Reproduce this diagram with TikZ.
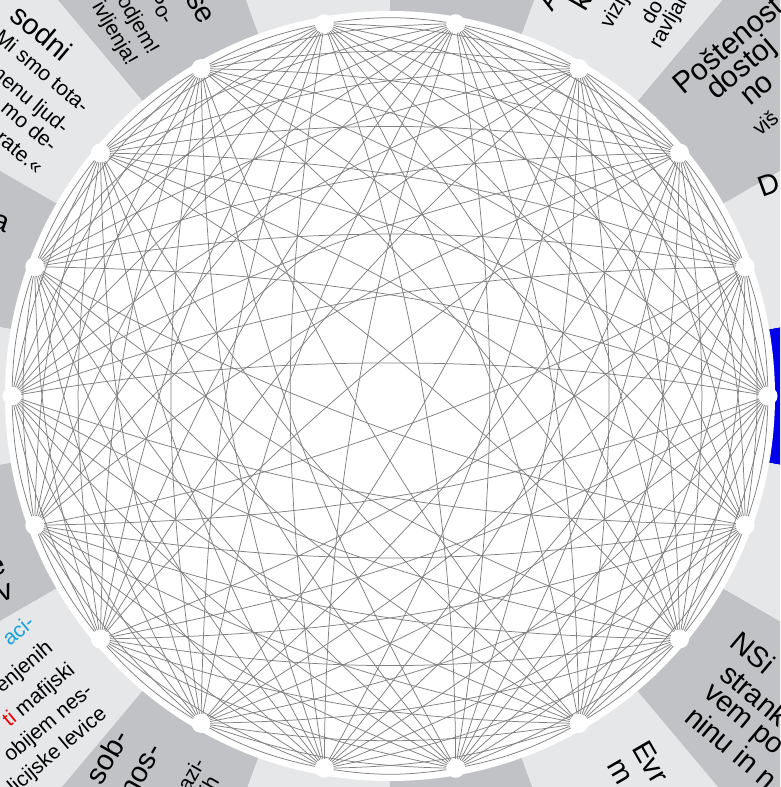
\documentclass[tikz,border=0pt]{standalone}
\usepackage{fontspec}
\setmainfont{Liberation Sans}
\definecolor{lightw}{RGB}{230,231,232}
\definecolor{darkw}{RGB}{193,194,197}
\definecolor{wblue}{RGB}{0,0,235}
\definecolor{edgec}{RGB}{128,128,128}
\definecolor{tcyan}{RGB}{20,160,225}
\definecolor{tred}{RGB}{235,0,0}
\begin{document}
\begin{tikzpicture}[x=1pt,y=1pt,
  ttl/.style={font=\fontsize{29}{29}\selectfont, inner sep=0pt},
  bdy/.style={font=\fontsize{21}{21}\selectfont, inner sep=0pt},
  pnode/.style={circle, fill=white, minimum size=19pt, inner sep=0pt},
  edg/.style={draw=edgec, line width=0.75pt},
]
\useasboundingbox (-390,-391) rectangle (390,396);
\clip (-390,-391) rectangle (390,396);
% wedges
\foreach \k in {0,...,17}{
  \pgfmathsetmacro\a{20*\k}
  \ifnum\k=0 \def\wc{wblue}\else \ifodd\k\relax \def\wc{lightw}\else\def\wc{darkw}\fi\fi
  \fill[\wc] (0,0) -- (\a-10:900) -- (\a+10:900) -- cycle;
}
\fill[white] (0,0) circle (385);
% node centres
\foreach \k in {0,...,17} \coordinate (p\k) at (20*\k:378);
% edges: from node i to node i+k (counter-clockwise), all bent to the right by 9 degrees
\foreach \i in {0,...,17}{
  \foreach \k in {1,...,8}{
    \pgfmathtruncatemacro\j{mod(\i+\k,18)}
    \pgfmathsetmacro\ph{20*\i+10*\k+90}
    \pgfmathsetmacro\cc{0.3915*756*sin(10*\k)}
    \pgfmathsetmacro\oa{\ph-9}
    \pgfmathsetmacro\ob{\ph+189}
    \draw[edg] (p\i) .. controls +(\oa:\cc) and +(\ob:\cc) .. (p\j);
  }
}
% diameters, as flat circular arcs (p0-p9, p2-p11, ..., p16-p7)
\draw[edg] (p0) arc[start angle=80, end angle=100, radius=2177];
\draw[edg] (p2) arc[start angle=120, end angle=140, radius=2177];
\draw[edg] (p4) arc[start angle=160, end angle=180, radius=2177];
\draw[edg] (p6) arc[start angle=200, end angle=220, radius=2177];
\draw[edg] (p8) arc[start angle=240, end angle=260, radius=2177];
\draw[edg] (p10) arc[start angle=280, end angle=300, radius=2177];
\draw[edg] (p12) arc[start angle=320, end angle=340, radius=2177];
\draw[edg] (p14) arc[start angle=360, end angle=380, radius=2177];
\draw[edg] (p16) arc[start angle=400, end angle=420, radius=2177];
% nodes
\foreach \k in {0,...,17} \node[pnode] (n\k) at (p\k) {};
% right side texts (reading outward)
\node[ttl, font=\fontsize{30}{30}\selectfont, rotate=40, anchor=base west] (r1) at (293,300) {Poštenost};
\node[ttl, font=\fontsize{30}{30}\selectfont, rotate=40, anchor=base west] (r2) at (326,295) {dostoj};
\node[ttl, font=\fontsize{30}{30}\selectfont, rotate=40, anchor=base west] (r3) at (360,289) {no};
\node[bdy, rotate=40, anchor=base west] (r4) at (370,259) {viš};
\node[ttl, rotate=20, anchor=base west] (r5) at (372,198) {D};
\node[ttl, rotate=60, anchor=base west] (r6) at (162,383) {A};
\node[ttl, rotate=60, anchor=base west] (r7) at (195,383) {ko};
\node[bdy, rotate=60, anchor=base west] (r8) at (221,366) {vizij};
\node[bdy, rotate=60, anchor=base west] (r9) at (262,370) {do};
\node[bdy, rotate=60, anchor=base west] (r10) at (270,346) {ravljan};
\node[ttl, rotate=-60, anchor=base west] (r11) at (241,-352) {Evr};
\node[ttl, rotate=-60, anchor=base west] (r12) at (216,-369) {m};
\node[ttl, rotate=-40, anchor=base west] (r13) at (338,-249) {NSi};
\node[ttl, rotate=-40, anchor=base west] (r14) at (328,-281) {strank};
\node[ttl, rotate=-40, anchor=base west] (r15) at (312,-299) {vem po};
\node[ttl, rotate=-40, anchor=base west] (r16) at (293,-324) {ninu in n};
% left side texts (reading inward)
\node[ttl, rotate=-40, anchor=base east] (l1) at (-328,333) {sodni};
\node[bdy, rotate=-40, anchor=base east] (l2) at (-308,282) {Mi smo tota-};
\node[bdy, rotate=-40, anchor=base east] (l3) at (-328,261) {menu ljud-};
\node[bdy, rotate=-40, anchor=base east] (l4) at (-340,243) {mo de-};
\node[bdy, rotate=-40, anchor=base east] (l5) at (-354,221) {rate.«};
\node[ttl, rotate=-60, anchor=base east] (l6) at (-189,370) {se};
\node[bdy, rotate=-60, anchor=base east] (l7) at (-227,370) {Po-};
\node[bdy, rotate=-60, anchor=base east] (l8) at (-241.5,340.5) {odjem!};
\node[bdy, rotate=-60, anchor=base east] (l9) at (-263,329) {ivljenja!};
\node[ttl, rotate=-20, anchor=base east] (l10) at (-384,163) {a};
\node[ttl, rotate=20, anchor=base east] (l11) at (-382,-176) {e};
\node[ttl, rotate=20, anchor=base east] (l12) at (-375,-201) {ov};
\node[bdy, rotate=40, anchor=base east, text=tcyan] (l13) at (-354,-229) {aci-};
\node[bdy, rotate=40, anchor=base east] (l14) at (-336,-254) {enjenih};
\node[bdy, rotate=40, anchor=base east] (l15) at (-314,-276) {\textcolor{tred}{ti} mafijski};
\node[bdy, rotate=40, anchor=base east] (l16) at (-296,-297) {obijem nes-};
\node[bdy, rotate=40, anchor=base east] (l17) at (-282,-320) {licijske levice};
\node[ttl, rotate=60, anchor=base east] (l18) at (-260,-341) {sob-};
\node[ttl, rotate=60, anchor=base east] (l19) at (-227,-354) {nos-};
\node[bdy, rotate=60, anchor=base east] (l20) at (-184,-367) {azi-};
\node[bdy, rotate=60, anchor=base east] (l21) at (-170,-385) {ih};
\end{tikzpicture}
\end{document}
